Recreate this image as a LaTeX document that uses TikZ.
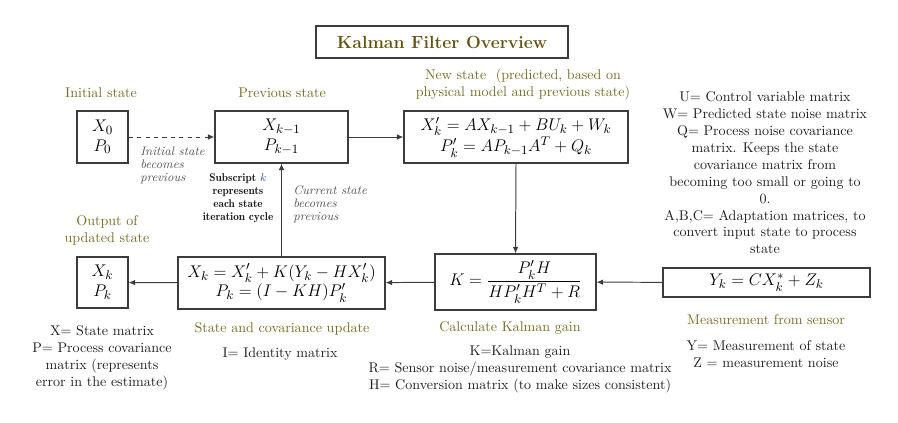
\documentclass[tikz,border=0pt]{standalone}
\usepackage{amsmath}
\usepackage{xcolor}
\usetikzlibrary{arrows.meta, positioning}
\definecolor{kfolive}{RGB}{120,108,34}
\definecolor{kftitle}{RGB}{100,84,16}
\definecolor{kfgray}{RGB}{85,85,85}
\definecolor{kfline}{RGB}{60,60,60}
\definecolor{kftext}{RGB}{30,30,30}
\definecolor{kfsub}{RGB}{70,90,140}
\tikzset{
  eqbox/.style={
    rectangle, draw=kfline, line width=0.9pt, fill=white,
    minimum height=1.3cm, align=center, inner sep=2pt,
    font=\fontsize{12.8}{14}\selectfont
  },
  titlebox/.style={
    rectangle, draw=kfline, line width=0.9pt,
    minimum width=6.3cm, minimum height=0.8cm,
    font=\fontsize{12.5}{14}\selectfont\bfseries, text=kftitle
  },
  stagelabel/.style={
    inner sep=0pt, align=center, font=\fontsize{10}{12}\selectfont, text=kfolive
  },
  notetext/.style={
    inner sep=0pt, align=center, font=\fontsize{10}{12}\selectfont, text=kftext
  },
  sidenote/.style={
    inner sep=0pt, align=left, font=\fontsize{8.8}{9.3}\selectfont\itshape, text=kfgray
  },
  flow/.style={-{Latex[length=1.6mm,width=1.4mm]}, line width=0.7pt, draw=kfline}
}
\begin{document}
\begin{tikzpicture}[x=0.025cm, y=-0.025cm]
\useasboundingbox (0,0) rectangle (898,422);

% title
\node[titlebox] (title) at (442,42) {Kalman Filter Overview};

% boxes
\node[eqbox, minimum width=1.275cm] (init) at (102.5,137) {$X_0$\\$P_0$};
\node[eqbox, minimum width=3.325cm] (prev) at (281.5,137) {$X_{k-1}$\\$P_{k-1}$};
\node[eqbox, minimum width=5.6cm] (newst) at (516,137)
  {$X'_k = AX_{k-1} + BU_k + W_k$\\$P'_k = AP_{k-1}A^T + Q_k$};
\node[eqbox, minimum width=4.025cm, minimum height=1.4cm] (gain) at (515.5,282)
  {$K = \dfrac{P'_kH}{HP'_kH^T + R}$};
\node[eqbox, minimum width=5.175cm, minimum height=0.725cm] (meas) at (766.5,282.5)
  {$Y_k = CX^*_k + Z_k$};
\node[eqbox, minimum width=5.175cm] (update) at (281.5,283)
  {$X_k = X'_k + K(Y_k - HX'_k)$\\$P_k = (I - KH)P'_k$};
\node[eqbox, minimum width=1.275cm, minimum height=1.275cm] (output) at (102.5,282.5)
  {$X_k$\\$P_k$};

% stage labels
\node[stagelabel] (initlbl) at (101,93) {Initial state};
\node[stagelabel] (prevlbl) at (282,93) {Previous state};
\node[stagelabel] (newlbl) at (523,84.5) {New state \ (predicted, based on\\physical model and previous state)};
\node[stagelabel] (outlbl) at (107,230.5) {Output of\\updated state};
\node[stagelabel] (updlbl) at (282,329) {State and covariance update};
\node[stagelabel] (gainlbl) at (510,328) {Calculate Kalman gain};
\node[stagelabel] (measlbl) at (766,320) {Measurement from sensor};

% notes
\node[notetext] (predvars) at (765,173) {U= Control variable matrix\\W= Predicted state noise matrix\\Q= Process noise covariance\\matrix. Keeps the state\\covariance matrix from\\becoming too small or going to\\0.\\A,B,C= Adaptation matrices, to\\convert input state to process\\state};
\node[notetext] (statevars) at (102,357.5) {X= State matrix\\P= Process covariance\\matrix (represents\\error in the estimate)};
\node[notetext] (identvar) at (280,354) {I= Identity matrix};
\node[notetext] (gainvars) at (520,369) {K=Kalman gain\\R= Sensor noise/measurement covariance matrix\\H= Conversion matrix (to make sizes consistent)};
\node[notetext] (measvars) at (766,354.5) {Y= Measurement of state\\Z = measurement noise};

\node[sidenote, anchor=west] (initnote) at (140,165) {Initial state\\becomes\\previous};
\node[sidenote, anchor=west] (curnote) at (293,204) {Current state\\becomes\\previous};
\node[inner sep=0pt, align=center, font=\fontsize{8}{9.3}\selectfont\fontseries{b}\selectfont, text=kftext] (subnote) at (238,198.5)
  {Subscript \textcolor{kfsub}{$k$}\\represents\\each state\\iteration cycle};

% arrows
\draw[flow, dashed] (init) -- (prev);
\draw[flow] (newst.south) -- (gain.north);
\draw[flow] (update.north) -- (prev.south);
\foreach \a/\b in {prev/newst, meas/gain, gain/update, update/output}
  \draw[flow] (\a) -- (\b);
\end{tikzpicture}
\end{document}
